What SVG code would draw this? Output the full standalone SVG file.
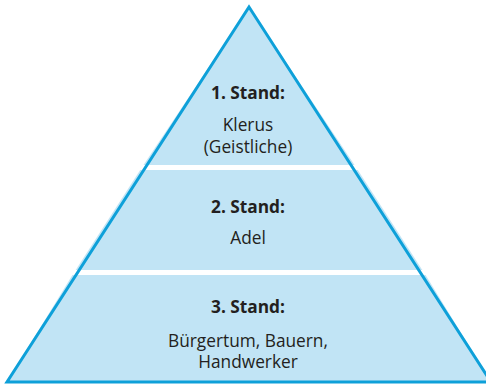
<svg xmlns="http://www.w3.org/2000/svg" width="486" height="384" viewBox="0 0 486 384">
<style>
.tier{fill:#c1e4f5;stroke:none}
.edge{fill:none;stroke:#0ea0d9;stroke-width:3;stroke-linejoin:miter}
.t{font-family:"Open Sans","DejaVu Sans",sans-serif;font-size:17.3px;fill:#231f20;text-anchor:middle}
.b{font-weight:bold}
</style>
<g id="stand1">
<polygon class="tier" points="249,7 143.5,165 354.5,165"/>
<text class="t b" x="248" y="99">1. Stand:</text>
<text class="t" x="248" y="131">Klerus</text>
<text class="t" x="248" y="153">(Geistliche)</text>
</g>
<g id="stand2">
<polygon class="tier" points="140.2,170 357.8,170 422.3,270 75.7,270"/>
<text class="t b" x="248" y="213">2. Stand:</text>
<text class="t" x="248" y="244">Adel</text>
</g>
<g id="stand3">
<polygon class="tier" points="72.4,275 425.6,275 491,382 7,382"/>
<text class="t b" x="248" y="313">3. Stand:</text>
<text class="t" x="248" y="347">Bürgertum, Bauern,</text>
<text class="t" x="248" y="368">Handwerker</text>
</g>
<g id="connectors">
<polygon class="edge" points="249,7 491,382 7,382"/>
</g>
</svg>
